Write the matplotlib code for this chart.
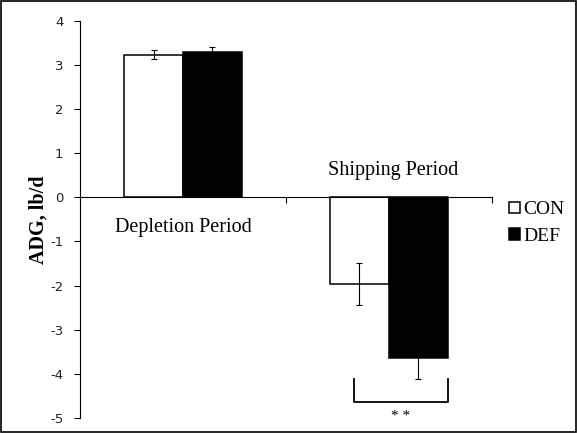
import matplotlib.pyplot as plt
import numpy as np
from matplotlib.patches import Rectangle

# --- Data ---
periods = ["Depletion Period", "Shipping Period"]
groups = ["CON", "DEF"]
con_mean = [3.23, -1.97]
con_err = [0.11, 0.47]
def_mean = [3.28, -3.65]
def_err = [0.12, 0.46]
yticks = [4, 3, 2, 1, 0, -1, -2, -3, -4, -5]

serif = "Liberation Serif"

# --- Figure / axes ---
fig = plt.figure(figsize=(5.77, 4.33), dpi=100)
fig.patches.append(Rectangle((0.002, 0.003), 0.996, 0.994, transform=fig.transFigure,
                             fill=False, edgecolor="black", linewidth=1.2))
ax = fig.add_axes([0.1386, 0.0346, 0.714, 0.918])

x = np.arange(len(periods))
w = 0.286
ekw = dict(elinewidth=0.8, capthick=0.8, ecolor="black")
ax.bar(x - w/2, con_mean, w, color="white", edgecolor="black", linewidth=1.1,
       yerr=con_err, capsize=2.5, error_kw=ekw, label=groups[0])
ax.bar(x + w/2, def_mean, w, color="black", edgecolor="black", linewidth=1.1,
       yerr=def_err, capsize=2.5, error_kw=ekw, label=groups[1])

ax.set_xlim(-0.5, 1.5)
ax.set_ylim(-5, 4)
ax.set_yticks(yticks)
ax.set_yticklabels([str(v) for v in yticks], fontsize=9.5, color="#222222")
ax.tick_params(axis="y", direction="out", length=4, width=0.8, pad=8)

# zero line as the x axis, ticks at category boundaries
ax.spines["top"].set_visible(False)
ax.spines["right"].set_visible(False)
ax.spines["bottom"].set_position(("data", 0))
ax.spines["left"].set_linewidth(0.8)
ax.spines["bottom"].set_linewidth(0.8)
ax.set_xticks([0.5, 1.5])
ax.set_xticklabels([])
ax.tick_params(axis="x", direction="out", length=4, width=0.8)

ax.set_ylabel("ADG, lb/d", fontsize=14.5, fontweight="bold", family=serif, labelpad=1)

# period labels
ax.text(x[0], -0.68, periods[0], ha="center", va="center", fontsize=14.5, family=serif)
ax.text(x[1] + 0.02, 0.6, periods[1], ha="center", va="center", fontsize=14.5, family=serif)

# significance bracket under shipping period
bl = x[1] - 0.594 * w
br = x[1] + w
btop = def_mean[1] - def_err[1]
bbot = btop - 0.52
ax.plot([bl, bl, br, br], [btop, bbot, bbot, btop], color="black", lw=1.3,
        solid_joinstyle="round", clip_on=False)
ax.text((bl + br) / 2, bbot - 0.33, "* *", ha="center", va="center", fontsize=11, family=serif)

# legend
leg = ax.legend(loc="center left", bbox_to_anchor=(1.0, 0.49), frameon=False,
                prop=dict(family=serif, size=14), handlelength=0.55, handleheight=0.55,
                handletextpad=0.15, labelspacing=0.5, borderaxespad=0.5)

fig.savefig("out.png", dpi=100)
